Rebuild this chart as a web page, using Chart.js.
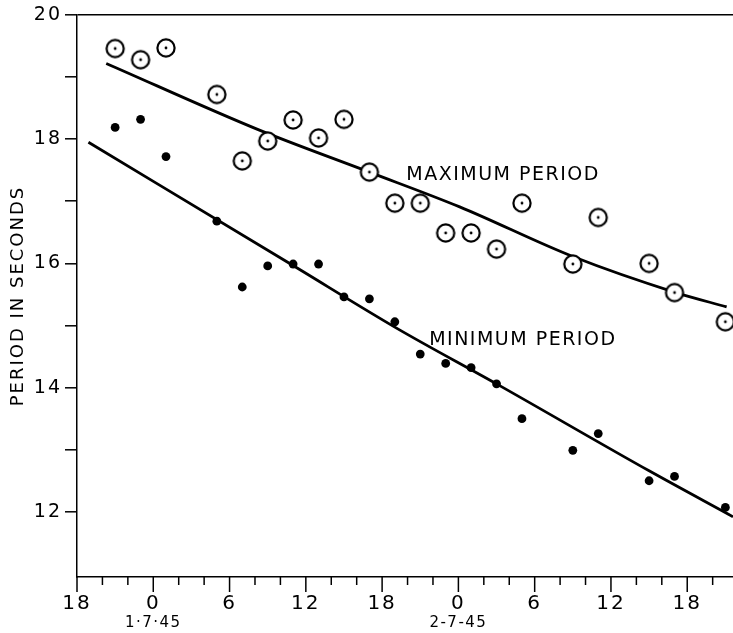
<!DOCTYPE html>
<html>
<head>
<meta charset="utf-8">
<script src="https://cdn.jsdelivr.net/npm/chart.js@4"></script>
<style>
html, body { margin: 0; padding: 0; background: #fff; }
#wrap { width: 733px; height: 633px; position: relative; }
</style>
</head>
<body>
<div id="wrap"><canvas id="chart"></canvas></div>
<script>
// hours counted from 18h on 30-6-45
const hours = [3, 5, 7, 11, 13, 15, 17, 19, 21, 23, 25, 27, 29, 31, 33, 35, 39, 41, 45, 47, 51];
const maxPeriod = [19.46, 19.28, 19.47, 18.72, 17.65, 17.97, 18.31, 18.02, 18.32, 17.47, 16.97,
                   16.97, 16.49, 16.49, 16.23, 16.97, 15.99, 16.74, 16.00, 15.53, 15.06];
const minPeriod = [18.19, 18.32, 17.72, 16.68, 15.62, 15.96, 15.99, 15.99, 15.46, 15.43, 15.06,
                   14.54, 14.39, 14.32, 14.06, 13.50, 12.99, 13.26, 12.50, 12.57, 12.07];

// smoothed curves drawn through the points
const maxCurveHours = [2.3, 14.3, 23.0, 30.1, 39.0, 47.1, 51.1];
const maxCurve = [19.22, 18.15, 17.47, 16.91, 16.11, 15.53, 15.30];
const minCurveHours = [0.9, 16.8, 25.2, 33.0, 45.0, 51.6];
const minCurve = [17.95, 15.99, 14.95, 14.06, 12.66, 11.92];

const xTickHours = [0, 6, 12, 18, 24, 30, 36, 42, 48];
const xTickLabels = ['18', '0', '6', '12', '18', '0', '6', '12', '18'];
const dateTickHours = [6, 30];
const dateTickLabels = ['1·7·45', '2-7-45'];
const yTickValues = [12, 13, 14, 15, 16, 17, 18, 19, 20];

const curveLabels = ['MAXIMUM PERIOD', 'MINIMUM PERIOD'];
const curveLabelHours = [25.9, 27.7];
const curveLabelValues = [17.42, 14.77];

function toPoints(xs, ys) {
    return xs.map((x, i) => ({ x: x, y: ys[i] }));
}

function makeRing() {
    const c = document.createElement('canvas');
    c.width = 22;
    c.height = 22;
    const g = c.getContext('2d');
    g.beginPath();
    g.arc(11, 11, 8.6, 0, Math.PI * 2);
    g.fillStyle = '#fff';
    g.fill();
    g.lineWidth = 2.2;
    g.strokeStyle = '#000';
    g.stroke();
    g.beginPath();
    g.arc(11, 11, 1.4, 0, Math.PI * 2);
    g.fillStyle = '#000';
    g.fill();
    return c;
}

const extras = {
    id: 'extras',
    beforeDraw(chart) {
        chart.ctx.letterSpacing = '2px';
    },
    afterDraw(chart) {
        const ctx = chart.ctx;
        const xs = chart.scales.x;
        const ys = chart.scales.y;
        const base = chart.chartArea.bottom;
        ctx.save();
        // x tick marks, long every 6 h, short every 2 h
        ctx.strokeStyle = '#000';
        ctx.lineWidth = 1.5;
        for (let h = 0; h <= 50; h += 2) {
            const px = xs.getPixelForValue(h);
            const len = h % 6 === 0 ? 15 : 8;
            ctx.beginPath();
            ctx.moveTo(px, base);
            ctx.lineTo(px, base + len);
            ctx.stroke();
        }
        ctx.fillStyle = '#000';
        ctx.textBaseline = 'middle';
        ctx.textAlign = 'center';
        ctx.letterSpacing = '1.5px';
        ctx.font = '15px "DejaVu Sans"';
        dateTickHours.forEach((h, i) => {
            ctx.fillText(dateTickLabels[i], xs.getPixelForValue(h), 623);
        });
        ctx.textAlign = 'left';
        ctx.font = '19px "DejaVu Sans"';
        curveLabels.forEach((t, i) => {
            ctx.fillText(t, xs.getPixelForValue(curveLabelHours[i]), ys.getPixelForValue(curveLabelValues[i]));
        });
        ctx.restore();
    }
};

Chart.defaults.font.family = '"DejaVu Sans"';
Chart.defaults.color = '#000';

const chartCanvas = document.getElementById('chart').getContext('2d');
new Chart(chartCanvas, {
    type: 'scatter',
    data: {
        datasets: [
            {
                label: 'Maximum period',
                data: toPoints(hours, maxPeriod),
                pointStyle: makeRing(),
                pointRadius: 9,
                clip: false,
                order: 0
            },
            {
                label: 'Minimum period',
                data: toPoints(hours, minPeriod),
                pointRadius: 4.4,
                pointBackgroundColor: '#000',
                pointBorderWidth: 0,
                clip: false,
                order: 0
            },
            {
                type: 'line',
                data: toPoints(maxCurveHours, maxCurve),
                borderColor: '#000',
                borderWidth: 2.8,
                pointRadius: 0,
                fill: false,
                cubicInterpolationMode: 'monotone',
                order: 1
            },
            {
                type: 'line',
                data: toPoints(minCurveHours, minCurve),
                borderColor: '#000',
                borderWidth: 2.8,
                pointRadius: 0,
                fill: false,
                cubicInterpolationMode: 'monotone',
                order: 1
            }
        ]
    },
    options: {
        responsive: true,
        maintainAspectRatio: false,
        devicePixelRatio: 1,
        animation: false,
        layout: { autoPadding: false, padding: { top: 15, left: 0, right: 0, bottom: 0 } },
        plugins: { legend: { display: false }, tooltip: { enabled: false } },
        scales: {
            x: {
                type: 'linear',
                min: 0,
                max: 51.6,
                afterBuildTicks: s => { s.ticks = xTickHours.map(v => ({ value: v })); },
                afterFit: s => {
                    s.height = 56;
                    s.paddingLeft = 0;
                    s.paddingRight = 0;
                },
                grid: {
                    display: true,
                    drawOnChartArea: false,
                    color: 'rgba(0,0,0,0)',
                    tickColor: 'rgba(0,0,0,0)',
                    tickLength: 15
                },
                border: { display: true, color: '#000', width: 1.5 },
                ticks: {
                    padding: 0,
                    autoSkip: false,
                    maxRotation: 0,
                    font: { size: 20 },
                    callback: (v, i) => xTickLabels[i]
                }
            },
            y: {
                min: 10.95,
                max: 20,
                afterBuildTicks: s => { s.ticks = yTickValues.map(v => ({ value: v })); },
                afterFit: s => { s.width = 77; },
                grid: {
                    drawOnChartArea: true,
                    color: c => (c.tick && c.tick.value === 20 ? '#000' : 'rgba(0,0,0,0)'),
                    lineWidth: 1.6,
                    tickLength: 12,
                    tickColor: '#000',
                    tickWidth: 1.5
                },
                border: { display: true, color: '#000', width: 1.5 },
                ticks: {
                    padding: 3,
                    autoSkip: false,
                    font: { size: 19 },
                    callback: v => (v % 2 === 0 ? String(v) : '')
                },
                title: {
                    display: true,
                    text: 'PERIOD IN SECONDS',
                    font: { size: 18 },
                    padding: { top: 8, bottom: 0 }
                }
            }
        }
    },
    plugins: [extras]
});
</script>
</body>
</html>
